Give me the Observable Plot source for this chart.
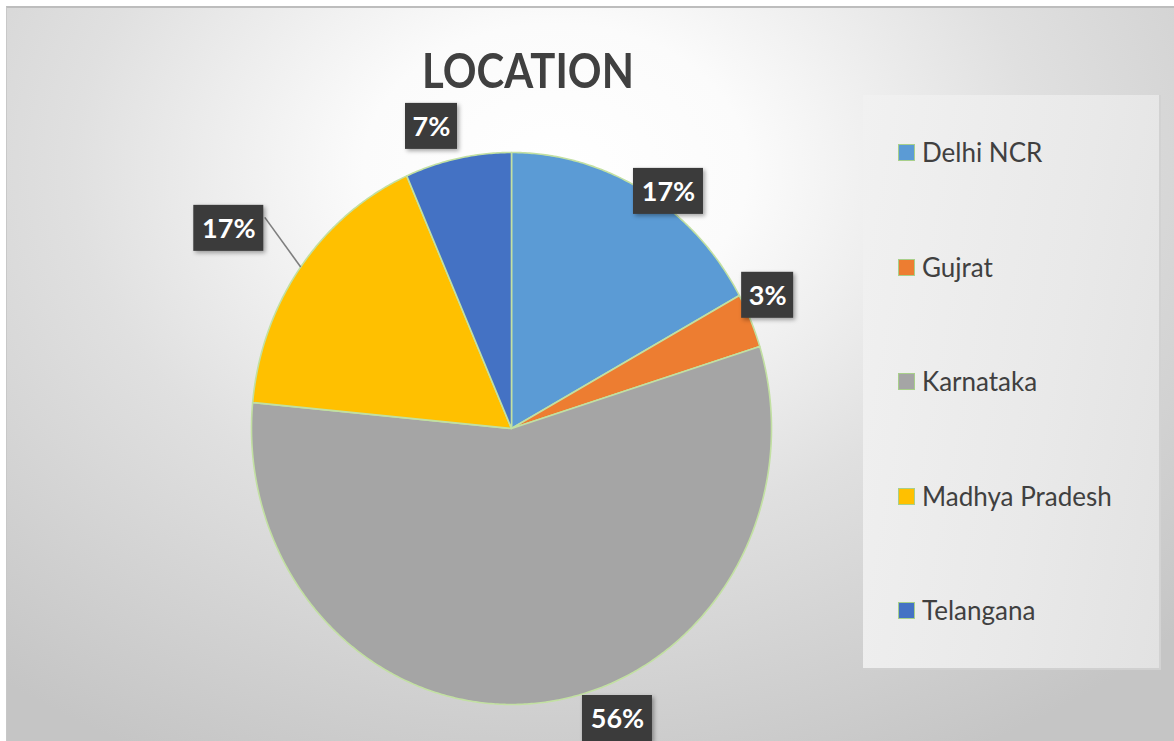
<!DOCTYPE html>
<html>
<head>
<meta charset="utf-8">
<script src="https://cdn.jsdelivr.net/npm/d3@7"></script>
<script src="https://cdn.jsdelivr.net/npm/@observablehq/plot@0.6"></script>
<style>
  html, body { margin: 0; padding: 0; background: #ffffff; }
  #wrap {
    position: absolute; left: 6px; top: 6px; width: 1168px; height: 735px;
    background: radial-gradient(ellipse 75% 90% at 47% 22%, #ffffff 0%, #fbfbfb 22%, #e0e0e0 55%, #c5c5c5 100%);
    border-top: 2px solid #bdbdbd; border-left: 1px solid #c8c8c8;
    box-sizing: border-box; overflow: hidden;
  }
  #chart { position: absolute; left: -7px; top: -8px; }
  #chart svg { background: transparent !important; }
  #title {
    position: absolute; left: 0; width: 1042px; top: 39px; text-align: center;
    font-family: Lato, "Open Sans", sans-serif; font-weight: 700; font-size: 47px;
    color: #404040; transform: scaleX(0.89); transform-origin: 521px 0; line-height: 1;
  }
  #legend {
    position: absolute; left: 856px; top: 87px; width: 298px; height: 575px;
    background: linear-gradient(100deg, #f1f1f1 0%, #e9e9e9 60%, #e2e2e2 100%);
    border-right: 2px solid #d2d2d2; border-bottom: 2px solid #d0d0d0; box-sizing: border-box;
    font-family: Lato, "Open Sans", sans-serif; font-size: 26px; color: #404040;
  }
  .item { position: absolute; left: 35px; height: 30px; display: flex; align-items: center; }
  .sw { width: 15px; height: 15px; border: 1.5px solid #a8cf8a; margin-right: 7px; }
  .lblbox rect { filter: drop-shadow(2px 2px 2px rgba(0,0,0,0.35)); }
</style>
</head>
<body>
<div id="wrap">
  <div id="chart"></div>
  <div id="title"></div>
  <div id="legend"></div>
</div>
<script>
// ---- data ----
const title = "LOCATION";
const categories = ["Delhi NCR", "Gujrat", "Karnataka", "Madhya Pradesh", "Telangana"];
const shares = [17, 3.2, 56.3, 16.9, 6.6];
const labels = ["17%", "3%", "56%", "17%", "7%"];
const colors = ["#5B9BD5", "#ED7D31", "#A5A5A5", "#FFC000", "#4472C4"];

// ---- layout (label placement in polar terms around pie centre) ----
const labelAngleDeg = [35.1, 63.9, 158.8, 303.7, 344.3];
const labelRadius = [1.05, 1.097, 1.127, 1.307, 1.137];
const leaderFor = [false, false, false, true, false];

const W = 1174, H = 741;
const cx = 511, cy = 428, rx = 260, ry = 276;

const arcs = d3.pie().sort(null).value(d => d)(shares);

// slice outlines in unit-circle data space
const slicePts = [];
arcs.forEach((a, i) => {
  slicePts.push({cat: categories[i], x: 0, y: 0});
  const n = Math.max(4, Math.ceil((a.endAngle - a.startAngle) / (Math.PI / 360)));
  for (let k = 0; k <= n; k++) {
    const t = a.startAngle + (a.endAngle - a.startAngle) * k / n;
    slicePts.push({cat: categories[i], x: Math.sin(t), y: Math.cos(t)});
  }
  slicePts.push({cat: categories[i], x: 0, y: 0});
});

const lbl = labels.map((t, i) => {
  const ang = labelAngleDeg[i] * Math.PI / 180;
  const x = labelRadius[i] * Math.sin(ang), y = labelRadius[i] * Math.cos(ang);
  const wpx = t.length > 2 ? 70 : 52, hpx = 46;
  return {text: t, x, y, x1: x - wpx / 2 / rx, x2: x + wpx / 2 / rx, y1: y - hpx / 2 / ry, y2: y + hpx / 2 / ry, i};
});

const leaders = lbl.filter(d => leaderFor[d.i]).map(d => {
  const a = arcs[d.i];
  const mid = (a.startAngle + a.endAngle) / 2;
  return {x1: d.x2 + 1 / rx, y1: d.y2 - 12 / ry, x2: Math.sin(mid) * 1.0, y2: Math.cos(mid) * 1.0};
});

const plot = Plot.plot({
  width: W, height: H,
  margin: 0,
  x: {domain: [-1, 1], range: [cx - rx, cx + rx], axis: null},
  y: {domain: [-1, 1], range: [cy + ry, cy - ry], axis: null},
  color: {domain: categories, range: colors},
  style: {background: "transparent"},
  marks: [
    Plot.line(slicePts, {x: "x", y: "y", z: "cat", fill: "cat", stroke: "#c2e0a2", strokeWidth: 1.6, curve: "linear", strokeLinejoin: "round"}),
    Plot.link(leaders, {x1: "x1", y1: "y1", x2: "x2", y2: "y2", stroke: "#7f7f7f", strokeWidth: 1.6}),
    Plot.rect(lbl, {x1: "x1", x2: "x2", y1: "y1", y2: "y2", fill: "#3b3b3b", className: "lblbox"}),
    Plot.text(lbl, {x: "x", y: "y", text: "text", fill: "white", fontSize: 27, fontWeight: "bold", fontFamily: "Lato, 'Open Sans', sans-serif", dy: 1})
  ]
});
document.getElementById("chart").appendChild(plot);

document.getElementById("title").textContent = title;

const legend = document.getElementById("legend");
const itemTop = [42, 157, 271, 386, 500];
categories.forEach((c, i) => {
  const it = document.createElement("div");
  it.className = "item";
  it.style.top = itemTop[i] + "px";
  const sw = document.createElement("div");
  sw.className = "sw";
  sw.style.background = colors[i];
  const tx = document.createElement("span");
  tx.textContent = c;
  it.appendChild(sw); it.appendChild(tx);
  legend.appendChild(it);
});
</script>
</body>
</html>
